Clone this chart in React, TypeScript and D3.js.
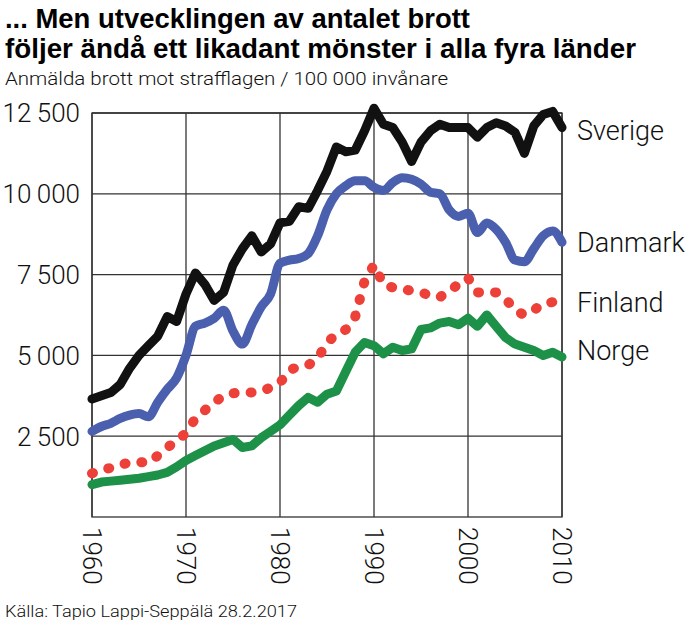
import React from "react";
import * as d3 from "d3";

const years: number[] = d3.range(1960, 2011);

const sverige = [3650, 3750, 3850, 4100, 4600, 5000, 5300, 5600, 6200, 6050, 6900, 7550, 7200, 6700, 6950, 7800, 8300, 8700, 8200, 8450, 9100, 9150, 9600, 9550, 10100, 10700, 11450, 11300, 11350, 11950, 12650, 12150, 12050, 11600, 11000, 11600, 11950, 12150, 12050, 12050, 12050, 11750, 12050, 12200, 12100, 11900, 11250, 12100, 12450, 12550, 12050];
const danmark = [2650, 2800, 2900, 3050, 3150, 3200, 3100, 3550, 3950, 4300, 5000, 5900, 6000, 6150, 6400, 5750, 5350, 5950, 6500, 6900, 7850, 7950, 8000, 8150, 8700, 9500, 10000, 10250, 10400, 10400, 10200, 10100, 10350, 10500, 10450, 10300, 10050, 10000, 9500, 9300, 9400, 8800, 9100, 8900, 8500, 7950, 7900, 8300, 8700, 8850, 8500];
const finland = [1350, 1450, 1520, 1600, 1700, 1700, 1680, 1900, 2150, 2350, 2600, 3050, 3300, 3550, 3750, 3830, 3850, 3850, 3900, 4000, 4150, 4550, 4650, 4700, 4900, 5400, 5650, 5800, 6200, 7300, 7800, 7200, 7100, 7050, 7000, 6950, 6850, 6800, 7000, 7200, 7400, 6950, 6950, 6950, 6750, 6400, 6250, 6400, 6600, 6650];
const norge = [1000, 1080, 1110, 1140, 1170, 1200, 1250, 1300, 1380, 1550, 1750, 1900, 2050, 2200, 2300, 2400, 2150, 2200, 2450, 2650, 2850, 3150, 3450, 3700, 3550, 3800, 3900, 4500, 5100, 5400, 5300, 5050, 5250, 5150, 5200, 5800, 5850, 6000, 6050, 5950, 6150, 5900, 6250, 5900, 5550, 5350, 5250, 5150, 5000, 5100, 4950];

const yTicks = [2500, 5000, 7500, 10000, 12500];
const yTickLabels = ["2\u2009500", "5\u2009000", "7\u2009500", "10\u2009000", "12\u2009500"];
const xTicks = [1960, 1970, 1980, 1990, 2000, 2010];

const seriesNames = ["Sverige", "Danmark", "Finland", "Norge"];
const seriesData = [sverige, danmark, finland, norge];
const seriesColors = ["#111111", "#4a5fae", "#ec4039", "#1e9148"];
const labelBaselines = [140, 252, 312, 360];

const W = 700;
const H = 628;
const left = 92;
const right = 562;
const top = 113;
const bottom = 517;

export default function App() {
  const x = d3.scaleLinear().domain([1960, 2010]).range([left, right]);
  const y = d3.scaleLinear().domain([0, 12500]).range([bottom, top]);

  const lineFor = (vals: number[], curved: boolean) =>
    d3
      .line<number>()
      .x((_, i) => x(years[i]))
      .y((d) => y(d))
      .curve(curved ? d3.curveMonotoneX : d3.curveLinear)(vals) || "";

  const lightFont = "Roboto, 'Liberation Sans', Arial, sans-serif";

  return (
    <svg
      width={W}
      height={H}
      viewBox={`0 0 ${W} ${H}`}
      style={{ position: "absolute", left: 0, top: 0, background: "#fff" }}
    >
      <rect x={0} y={0} width={W} height={H} fill="#fff" />
      {/* Title */}
      <g fontFamily="'Liberation Sans', Arial, sans-serif" fontWeight={700} fill="#000">
        <text x={5} y={28} fontSize={28} textLength={465} lengthAdjust="spacingAndGlyphs">
          ... Men utvecklingen av antalet brott
        </text>
        <text x={5} y={58} fontSize={28} textLength={631} lengthAdjust="spacingAndGlyphs">
          följer ändå ett likadant mönster i alla fyra länder
        </text>
      </g>
      <text
        x={5}
        y={85}
        fontFamily={lightFont}
        fontWeight={300}
        fontSize={19}
        fill="#111"
        textLength={443}
        lengthAdjust="spacingAndGlyphs"
      >
        Anmälda brott mot strafflagen / 100 000 invånare
      </text>

      {/* Grid */}
      <g stroke="#333" strokeWidth={1.3} fill="none">
        {yTicks.map((t) => (
          <line key={"h" + t} x1={left} x2={right} y1={y(t)} y2={y(t)} />
        ))}
        {xTicks.map((t) => (
          <line key={"v" + t} x1={x(t)} x2={x(t)} y1={top} y2={bottom} />
        ))}
        <rect x={left} y={top} width={right - left} height={bottom - top} />
      </g>

      {/* Y labels */}
      <g fontFamily={lightFont} fontWeight={300} fontSize={26} fill="#111" textAnchor="end">
        {yTicks.map((t, i) => (
          <text key={t} x={80} y={y(t)} dy="0.36em">
            {yTickLabels[i]}
          </text>
        ))}
      </g>

      {/* X labels rotated */}
      <g fontFamily={lightFont} fontWeight={300} fontSize={26} fill="#111">
        {xTicks.map((t) => (
          <text
            key={t}
            transform={`translate(${x(t)},${527}) rotate(90)`}
            x={0}
            y={0}
            dy="0.36em"
            textAnchor="start"
          >
            {t}
          </text>
        ))}
      </g>

      {/* Lines */}
      {seriesData.map((vals, i) => {
        const isDotted = seriesNames[i] === "Finland";
        return (
          <path
            key={seriesNames[i]}
            d={lineFor(vals, seriesNames[i] === "Danmark")}
            fill="none"
            stroke={seriesColors[i]}
            strokeWidth={isDotted ? 10 : 9}
            strokeLinecap="round"
            strokeLinejoin="round"
            strokeDasharray={isDotted ? "1 16" : undefined}
          />
        );
      })}

      {/* Labels */}
      <g fontFamily={lightFont} fontWeight={300} fontSize={27} fill="#111">
        {seriesNames.map((n, i) => (
          <text key={n} x={577} y={labelBaselines[i]}>
            {n}
          </text>
        ))}
      </g>

      <text
        x={5}
        y={617}
        fontFamily={lightFont}
        fontWeight={300}
        fontSize={16}
        fill="#111"
        textLength={292}
        lengthAdjust="spacingAndGlyphs"
      >
        Källa: Tapio Lappi-Seppälä 28.2.2017
      </text>
    </svg>
  );
}
